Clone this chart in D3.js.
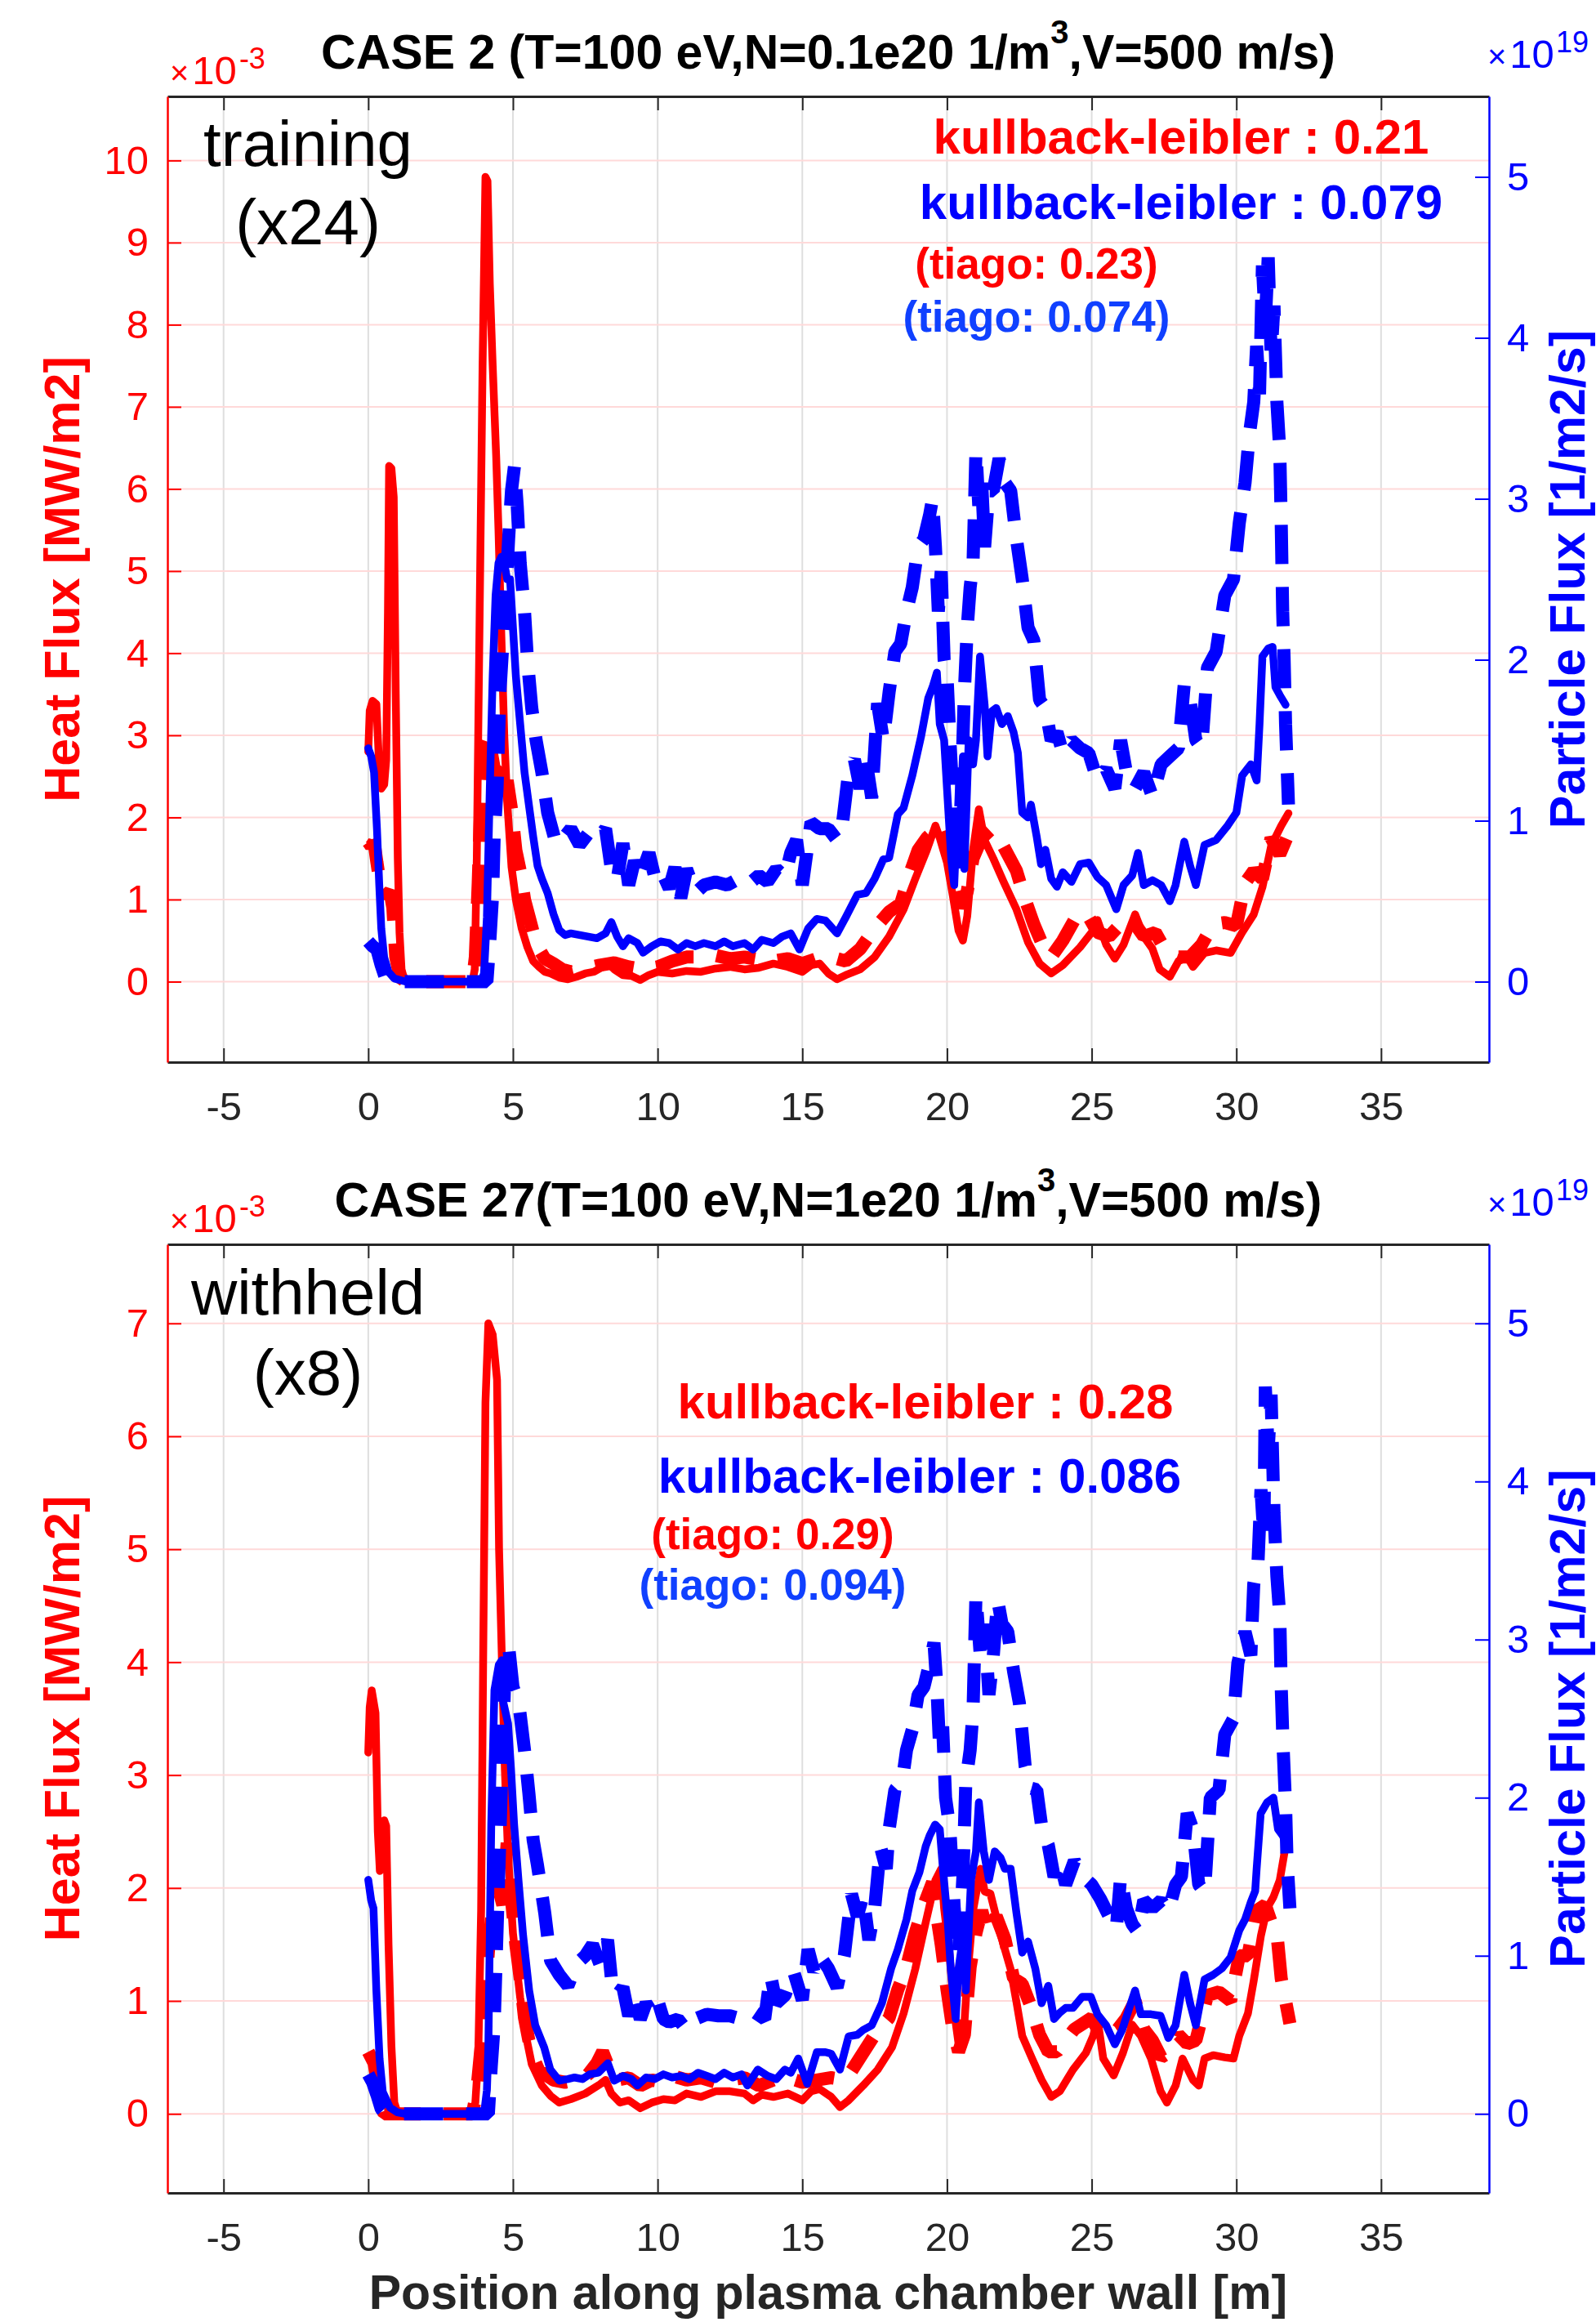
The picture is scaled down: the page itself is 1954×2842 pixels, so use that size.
<!DOCTYPE html>
<html>
<head>
<meta charset="utf-8">
<script src="https://cdn.jsdelivr.net/npm/d3@7"></script>
<style>
body { margin: 0; background: #fff; }
svg text { font-family: "Liberation Sans", Arial, Helvetica, sans-serif; }
</style>
</head>
<body>
<svg class="chart"></svg>
<script>
// ---- data ----
var xTicks = [-5, 0, 5, 10, 15, 20, 25, 30, 35];
var particleTicks = [0, 1, 2, 3, 4, 5];
var topHeatTicks = [0, 1, 2, 3, 4, 5, 6, 7, 8, 9, 10];
var bottomHeatTicks = [0, 1, 2, 3, 4, 5, 6, 7];

var titles = ["CASE 2 (T=100 eV,N=0.1e20 1/m", "CASE 27(T=100 eV,N=1e20 1/m"];
var titleTails = [",V=500 m/s)", ",V=500 m/s)"];
var setNames = [["training", "(x24)"], ["withheld", "(x8)"]];
var klHeat = ["kullback-leibler : 0.21", "kullback-leibler : 0.28"];
var klParticle = ["kullback-leibler : 0.079", "kullback-leibler : 0.086"];
var tiagoHeat = ["(tiago: 0.23)", "(tiago: 0.29)"];
var tiagoParticle = ["(tiago: 0.074)", "(tiago: 0.094)"];

// top panel, heat flux (x1e-3 MW/m2)
var topHeatSolid = [[0,2.8],[0.05,3.3],[0.15,3.42],[0.28,3.38],[0.38,2.6],[0.45,2.35],[0.55,2.4],[0.62,2.7],[0.68,4.5],[0.72,6.28],[0.8,6.25],[0.88,5.9],[0.95,3.5],[1.02,1.5],[1.08,0.6],[1.15,0.15],[1.25,0.02],[1.5,0],[2.5,0],[3.6,0],[3.68,0.15],[3.75,1.5],[3.85,4.5],[3.95,7.5],[4.05,9.8],[4.12,9.75],[4.2,8.5],[4.3,7.5],[4.42,6.4],[4.5,5.5],[4.6,4.2],[4.7,3.0],[4.8,2.2],[4.95,1.4],[5.1,1.0],[5.3,0.65],[5.5,0.42],[5.7,0.25],[5.9,0.18],[6.1,0.12],[6.3,0.1],[6.6,0.05],[6.9,0.03],[7.2,0.06],[7.5,0.1],[7.8,0.12],[8.1,0.18],[8.3,0.22],[8.5,0.15],[8.8,0.08],[9.1,0.07],[9.4,0.02],[9.7,0.08],[10,0.12],[10.5,0.1],[11,0.13],[11.5,0.12],[12,0.16],[12.5,0.18],[13,0.15],[13.5,0.17],[14,0.22],[14.5,0.18],[15,0.12],[15.3,0.2],[15.6,0.22],[15.9,0.1],[16.2,0.03],[16.5,0.08],[17,0.15],[17.5,0.3],[18,0.55],[18.5,0.88],[18.9,1.25],[19.3,1.6],[19.6,1.9],[19.75,1.75],[20,1.45],[20.2,1.05],[20.4,0.62],[20.55,0.5],[20.7,0.8],[20.9,1.6],[21.1,2.1],[21.3,1.72],[21.6,1.5],[21.95,1.22],[22.4,0.88],[22.8,0.48],[23.2,0.22],[23.6,0.1],[24,0.2],[24.6,0.42],[25,0.6],[25.2,0.75],[25.5,0.45],[25.8,0.28],[26.1,0.45],[26.5,0.82],[26.8,0.55],[27.1,0.4],[27.35,0.15],[27.7,0.06],[28,0.25],[28.3,0.3],[28.5,0.18],[28.9,0.35],[29.3,0.38],[29.8,0.35],[30.2,0.6],[30.6,0.82],[30.9,1.15],[31.2,1.65],[31.55,1.9],[31.8,2.05]];
var topHeatDashed = [[0,1.7],[0.1,1.65],[0.2,1.7],[0.3,1.45],[0.45,1.1],[0.6,1.05],[0.75,1.1],[0.85,0.9],[0.95,0.3],[1.1,0.05],[1.3,0],[3.6,0],[3.7,0.3],[3.8,1.2],[3.9,2.3],[4,2.9],[4.1,3.0],[4.2,2.9],[4.35,2.6],[4.5,2.55],[4.65,2.2],[4.8,2.45],[4.95,2.1],[5.1,1.6],[5.25,1.35],[5.4,1.0],[5.55,0.8],[5.7,0.6],[5.9,0.4],[6.1,0.28],[6.4,0.22],[6.7,0.15],[7,0.12],[7.5,0.16],[8,0.2],[8.5,0.23],[9,0.18],[9.5,0.15],[10,0.18],[10.5,0.25],[11,0.3],[11.5,0.3],[12,0.32],[12.5,0.28],[13,0.3],[13.5,0.27],[14,0.25],[14.5,0.28],[15,0.22],[15.5,0.28],[16,0.3],[16.5,0.25],[17,0.4],[17.5,0.65],[18,0.85],[18.4,0.95],[18.7,1.3],[19,1.6],[19.3,1.75],[19.6,1.85],[19.9,1.9],[20.1,1.7],[20.3,1.2],[20.5,0.9],[20.7,1.1],[20.9,1.5],[21.2,1.75],[21.5,1.85],[21.8,1.75],[22.1,1.55],[22.4,1.35],[22.7,1.0],[23,0.7],[23.3,0.45],[23.6,0.3],[24,0.5],[24.4,0.75],[24.8,0.85],[25.2,0.6],[25.6,0.55],[26,0.7],[26.4,0.75],[26.8,0.55],[27.2,0.6],[27.6,0.35],[28,0.3],[28.4,0.3],[28.8,0.45],[29.2,0.7],[29.6,0.72],[30,0.68],[30.3,1.2],[30.6,1.35],[30.9,1.25],[31.2,1.75],[31.5,1.55],[31.8,1.8]];
// top panel, particle flux (x1e19 1/m2/s)
var topPartSolid = [[0,1.45],[0.1,1.4],[0.2,1.3],[0.3,0.95],[0.38,0.6],[0.45,0.33],[0.55,0.15],[0.7,0.06],[0.9,0.02],[1.3,0],[3.9,0],[4,0.05],[4.1,0.4],[4.2,1.2],[4.3,1.9],[4.4,2.4],[4.5,2.6],[4.6,2.64],[4.7,2.6],[4.8,2.5],[4.9,2.5],[5,2.2],[5.1,1.9],[5.25,1.6],[5.4,1.3],[5.55,1.1],[5.7,0.9],[5.85,0.72],[6,0.64],[6.2,0.55],[6.4,0.42],[6.6,0.32],[6.8,0.29],[7,0.3],[7.3,0.29],[7.6,0.28],[7.9,0.27],[8.2,0.3],[8.4,0.37],[8.6,0.28],[8.8,0.22],[9,0.27],[9.3,0.24],[9.5,0.18],[9.8,0.22],[10.1,0.25],[10.4,0.24],[10.7,0.2],[11,0.24],[11.3,0.22],[11.6,0.24],[12,0.22],[12.3,0.25],[12.6,0.22],[13,0.24],[13.3,0.2],[13.6,0.26],[14,0.24],[14.3,0.28],[14.6,0.3],[14.9,0.2],[15.2,0.33],[15.5,0.39],[15.8,0.38],[16.2,0.3],[16.5,0.4],[16.9,0.54],[17.2,0.55],[17.5,0.64],[17.8,0.76],[18,0.77],[18.3,1.04],[18.5,1.08],[18.8,1.28],[19.1,1.52],[19.35,1.76],[19.5,1.83],[19.65,1.92],[19.75,1.6],[19.9,1.5],[20,1.2],[20.15,0.75],[20.25,0.6],[20.35,1.05],[20.45,0.95],[20.55,1.4],[20.6,0.7],[20.75,1.5],[20.9,1.35],[21,1.5],[21.14,2.02],[21.3,1.72],[21.4,1.4],[21.55,1.68],[21.7,1.7],[21.9,1.6],[22.1,1.65],[22.3,1.55],[22.45,1.42],[22.6,1.05],[22.8,1.02],[22.9,1.1],[23.1,0.9],[23.25,0.73],[23.4,0.82],[23.6,0.64],[23.8,0.59],[24,0.68],[24.3,0.62],[24.6,0.73],[24.9,0.74],[25.2,0.65],[25.5,0.6],[25.85,0.45],[26.1,0.6],[26.4,0.66],[26.6,0.8],[26.8,0.6],[27.1,0.63],[27.4,0.6],[27.7,0.5],[27.9,0.6],[28.2,0.87],[28.4,0.72],[28.6,0.6],[28.9,0.85],[29.3,0.88],[29.7,0.97],[30,1.05],[30.2,1.28],[30.5,1.35],[30.7,1.25],[30.8,1.6],[30.9,2.02],[31.1,2.07],[31.25,2.08],[31.35,1.83],[31.5,1.78],[31.7,1.72]];
var topPartDashed = [[0,0.25],[0.15,0.22],[0.3,0.2],[0.45,0.1],[0.6,0.02],[0.8,0],[4.1,0],[4.2,0.25],[4.3,0.55],[4.35,0.9],[4.45,1.2],[4.5,1.5],[4.55,1.8],[4.65,2.1],[4.75,2.4],[4.85,2.75],[4.95,3.05],[5.05,3.2],[5.15,2.95],[5.25,2.6],[5.4,2.3],[5.5,2.0],[5.65,1.7],[5.8,1.5],[6,1.3],[6.2,1.05],[6.5,0.85],[6.7,0.88],[7,0.95],[7.3,0.85],[7.6,0.92],[7.9,0.88],[8.2,0.95],[8.4,0.7],[8.6,0.63],[8.8,0.86],[9,0.6],[9.2,0.75],[9.4,0.65],[9.7,0.8],[9.9,0.65],[10.1,0.7],[10.4,0.58],[10.6,0.71],[10.8,0.52],[11,0.7],[11.3,0.55],[11.6,0.6],[12,0.62],[12.4,0.6],[12.8,0.64],[13.1,0.6],[13.5,0.66],[13.8,0.62],[14.1,0.7],[14.4,0.65],[14.6,0.8],[14.8,0.88],[15,0.6],[15.3,0.99],[15.6,0.95],[15.9,0.95],[16.2,0.88],[16.4,1.0],[16.6,1.3],[16.8,1.38],[17,1.2],[17.2,1.38],[17.4,1.14],[17.6,1.73],[17.8,1.5],[18,1.8],[18.2,2.05],[18.4,2.1],[18.6,2.3],[18.8,2.45],[19,2.7],[19.2,2.75],[19.4,2.9],[19.5,3.0],[19.6,2.7],[19.7,2.3],[19.8,2.55],[19.9,2.0],[20,1.9],[20.1,1.5],[20.25,1.0],[20.4,0.7],[20.5,1.2],[20.6,1.8],[20.7,2.2],[20.8,2.45],[20.9,2.6],[21,3.3],[21.1,2.95],[21.2,3.1],[21.3,2.7],[21.45,3.05],[21.6,3.05],[21.8,3.25],[22,3.1],[22.2,3.05],[22.4,2.75],[22.6,2.5],[22.8,2.2],[23,2.12],[23.2,1.75],[23.4,1.7],[23.6,1.5],[23.8,1.55],[24,1.42],[24.3,1.5],[24.6,1.45],[24.9,1.42],[25.2,1.25],[25.5,1.32],[25.8,1.2],[26,1.5],[26.2,1.3],[26.5,1.2],[26.8,1.3],[27.1,1.15],[27.4,1.35],[27.7,1.4],[28,1.45],[28.2,1.85],[28.4,1.75],[28.6,1.5],[28.8,1.45],[29,1.95],[29.3,2.05],[29.6,2.4],[29.9,2.5],[30.1,2.85],[30.3,3.1],[30.45,3.4],[30.6,3.6],[30.7,3.95],[30.8,3.65],[30.9,4.45],[31,4.1],[31.1,4.5],[31.2,3.9],[31.3,4.2],[31.4,3.6],[31.5,3.3],[31.55,2.85],[31.6,2.3],[31.65,2.0],[31.7,1.6],[31.8,1.1]];

// bottom panel, heat flux (x1e-3 MW/m2)
var botHeatSolid = [[0,3.2],[0.05,3.6],[0.12,3.75],[0.25,3.55],[0.33,2.5],[0.4,2.15],[0.48,2.2],[0.55,2.6],[0.62,2.55],[0.7,1.5],[0.8,0.6],[0.9,0.1],[1,0.02],[1.2,0],[3.6,0],[3.7,0.1],[3.8,0.5],[3.9,1.8],[3.97,4.0],[4.05,6.3],[4.15,7.0],[4.3,6.9],[4.45,6.5],[4.52,5.0],[4.62,4.0],[4.72,3.05],[4.83,2.3],[5,1.6],[5.25,1.03],[5.45,0.69],[5.65,0.44],[6,0.25],[6.3,0.16],[6.6,0.1],[7,0.13],[7.5,0.18],[8,0.26],[8.2,0.3],[8.4,0.18],[8.7,0.1],[9,0.12],[9.4,0.05],[9.8,0.1],[10.2,0.13],[10.6,0.12],[11,0.18],[11.5,0.15],[12,0.2],[12.5,0.2],[13,0.18],[13.3,0.12],[13.6,0.17],[14,0.15],[14.5,0.18],[15,0.12],[15.3,0.2],[15.6,0.22],[16,0.15],[16.3,0.06],[16.6,0.12],[17.1,0.25],[17.6,0.39],[18.1,0.59],[18.5,0.89],[18.9,1.28],[19.25,1.68],[19.6,2.07],[19.8,2.17],[19.9,1.82],[20.08,1.43],[20.25,0.9],[20.4,0.62],[20.55,0.6],[20.7,1.2],[20.9,1.8],[21.16,2.17],[21.3,1.97],[21.5,1.95],[21.86,1.58],[22.2,1.28],[22.4,0.99],[22.6,0.69],[22.94,0.49],[23.27,0.3],[23.6,0.15],[23.9,0.2],[24.35,0.39],[24.8,0.54],[25.05,0.69],[25.2,0.84],[25.4,0.49],[25.76,0.34],[26.08,0.54],[26.4,0.79],[26.7,0.69],[27.05,0.49],[27.38,0.2],[27.6,0.1],[27.9,0.25],[28.14,0.49],[28.5,0.3],[28.7,0.25],[28.9,0.49],[29.2,0.52],[29.6,0.5],[29.9,0.49],[30.1,0.69],[30.4,0.89],[30.6,1.18],[30.85,1.58],[31.06,1.82],[31.28,1.92],[31.5,2.07],[31.7,2.37],[31.8,2.4]];
var botHeatDashed = [[0,0.55],[0.1,0.5],[0.2,0.45],[0.3,0.3],[0.4,0.1],[0.55,0],[3.6,0],[3.75,0.2],[3.9,0.6],[4.05,1.1],[4.2,1.6],[4.35,1.9],[4.5,2.0],[4.65,1.85],[4.8,2.4],[4.95,1.9],[5.1,1.5],[5.25,1.2],[5.4,0.85],[5.55,0.65],[5.7,0.5],[5.9,0.38],[6.1,0.35],[6.4,0.3],[6.8,0.28],[7.2,0.3],[7.6,0.35],[7.9,0.45],[8.1,0.55],[8.3,0.42],[8.6,0.3],[9,0.32],[9.4,0.25],[9.8,0.3],[10.2,0.28],[10.6,0.33],[11,0.3],[11.5,0.32],[12,0.28],[12.5,0.3],[13,0.32],[13.5,0.25],[14,0.3],[14.5,0.32],[15,0.28],[15.5,0.3],[16,0.32],[16.5,0.3],[17,0.5],[17.5,0.7],[18,0.85],[18.3,1.1],[18.6,1.3],[18.9,1.6],[19.2,1.85],[19.5,2.05],[19.65,1.75],[19.8,1.5],[20,1.1],[20.2,0.75],[20.4,0.55],[20.6,0.7],[20.8,1.3],[21,1.6],[21.2,1.8],[21.4,1.6],[21.7,1.75],[22,1.55],[22.3,1.2],[22.6,1.15],[22.9,0.95],[23.2,0.7],[23.5,0.55],[23.8,0.55],[24.1,0.65],[24.4,0.75],[24.7,0.8],[25,0.85],[25.3,0.7],[25.6,0.7],[25.9,0.75],[26.2,0.85],[26.5,1.0],[26.8,0.75],[27.1,0.65],[27.4,0.5],[27.7,0.55],[28,0.7],[28.3,0.62],[28.6,0.65],[29,1.05],[29.4,1.08],[29.8,1.0],[30.1,1.4],[30.4,1.4],[30.7,1.8],[31,1.85],[31.2,1.7],[31.4,1.6],[31.55,1.2],[31.7,1.0],[31.85,0.8]];
// bottom panel, particle flux (x1e19 1/m2/s)
var botPartSolid = [[0,1.48],[0.1,1.35],[0.18,1.3],[0.28,0.78],[0.39,0.35],[0.5,0.14],[0.75,0.04],[1,0.01],[1.3,0],[4,0],[4.1,0.15],[4.15,0.42],[4.25,1.83],[4.36,2.68],[4.51,2.84],[4.62,2.87],[4.67,2.6],[4.83,2.47],[4.93,2.19],[5.04,1.83],[5.19,1.48],[5.35,1.13],[5.56,0.78],[5.77,0.56],[6.08,0.42],[6.29,0.28],[6.6,0.21],[6.9,0.22],[7.13,0.23],[7.4,0.22],[7.65,0.25],[7.95,0.26],[8.28,0.32],[8.5,0.21],[8.8,0.24],[9.1,0.22],[9.3,0.18],[9.6,0.23],[9.9,0.22],[10.2,0.25],[10.5,0.23],[10.8,0.24],[11.1,0.22],[11.4,0.26],[11.7,0.24],[12,0.22],[12.3,0.26],[12.6,0.23],[12.9,0.25],[13.1,0.18],[13.46,0.28],[13.8,0.24],[14.1,0.22],[14.4,0.28],[14.6,0.26],[14.86,0.35],[15.17,0.19],[15.5,0.39],[15.8,0.39],[16,0.38],[16.3,0.28],[16.6,0.49],[16.9,0.5],[17.1,0.53],[17.4,0.56],[17.75,0.7],[18.07,0.92],[18.3,1.04],[18.6,1.23],[18.8,1.41],[19.05,1.53],[19.26,1.69],[19.4,1.76],[19.59,1.83],[19.75,1.8],[19.86,1.55],[20.02,1.23],[20.13,0.92],[20.3,0.6],[20.4,0.92],[20.56,1.13],[20.65,0.78],[20.83,1.48],[21,1.66],[21.1,1.97],[21.27,1.66],[21.45,1.48],[21.65,1.66],[21.85,1.62],[22,1.55],[22.2,1.55],[22.4,1.27],[22.6,1.02],[22.8,1.09],[23.05,0.92],[23.27,0.7],[23.5,0.81],[23.7,0.6],[23.9,0.64],[24.1,0.67],[24.35,0.67],[24.67,0.74],[24.97,0.74],[25.2,0.63],[25.5,0.56],[25.8,0.44],[26.05,0.53],[26.3,0.67],[26.5,0.78],[26.7,0.63],[27.05,0.63],[27.38,0.62],[27.65,0.48],[27.9,0.56],[28.2,0.88],[28.4,0.7],[28.6,0.56],[28.9,0.85],[29.2,0.88],[29.5,0.92],[29.8,0.99],[30.1,1.16],[30.3,1.23],[30.5,1.34],[30.65,1.41],[30.7,1.55],[30.84,1.9],[31.06,1.97],[31.28,2.0],[31.44,1.8],[31.6,1.76],[31.76,1.69]];
var botPartDashed = [[0,0.25],[0.15,0.2],[0.3,0.12],[0.45,0.03],[0.6,0],[4.15,0],[4.25,0.3],[4.35,0.56],[4.4,0.86],[4.45,1.16],[4.5,1.46],[4.55,1.76],[4.6,2.08],[4.65,2.38],[4.7,2.66],[4.75,2.89],[4.85,2.96],[5,2.7],[5.2,2.6],[5.4,2.3],[5.55,2.03],[5.7,1.73],[5.85,1.57],[6.1,1.27],[6.3,0.97],[6.6,0.88],[6.9,0.81],[7.2,0.95],[7.5,1.0],[7.75,1.07],[8,0.95],[8.27,1.1],[8.4,0.86],[8.6,0.75],[8.8,0.8],[9,0.62],[9.2,0.74],[9.4,0.6],[9.6,0.7],[9.8,0.64],[10,0.72],[10.2,0.6],[10.4,0.58],[10.7,0.6],[11,0.53],[11.3,0.6],[11.7,0.63],[12.1,0.62],[12.5,0.62],[12.9,0.6],[13.3,0.65],[13.7,0.6],[13.9,0.88],[14.1,0.7],[14.4,0.75],[14.7,0.9],[15,0.72],[15.2,1.04],[15.4,0.9],[15.6,1.0],[15.9,0.92],[16.2,0.8],[16.45,1.0],[16.7,1.39],[16.9,1.25],[17.1,1.38],[17.3,1.1],[17.5,1.3],[17.7,1.69],[17.9,1.55],[18,1.8],[18.2,2.05],[18.45,2.1],[18.6,2.3],[18.8,2.43],[19,2.65],[19.2,2.7],[19.4,2.85],[19.55,2.98],[19.65,2.7],[19.75,2.3],[19.85,2.45],[19.95,2.0],[20.1,1.8],[20.25,1.3],[20.4,1.0],[20.55,1.5],[20.65,2.1],[20.8,2.3],[20.9,2.55],[21,3.28],[21.15,2.9],[21.3,3.1],[21.45,2.65],[21.6,2.9],[21.75,3.25],[21.9,3.1],[22.1,3.05],[22.3,2.8],[22.5,2.6],[22.7,2.2],[22.9,2.06],[23.1,2.05],[23.3,1.78],[23.5,1.7],[23.7,1.5],[23.9,1.6],[24.1,1.45],[24.4,1.6],[24.7,1.5],[25,1.45],[25.3,1.36],[25.6,1.25],[25.85,1.17],[26,1.5],[26.2,1.3],[26.4,1.2],[26.6,1.15],[26.8,1.35],[27.1,1.3],[27.4,1.35],[27.65,1.28],[27.9,1.45],[28.1,1.5],[28.3,1.9],[28.5,1.8],[28.7,1.45],[28.9,1.4],[29.1,2.0],[29.4,2.05],[29.6,2.4],[29.9,2.5],[30.05,2.85],[30.3,3.05],[30.5,2.9],[30.6,3.35],[30.75,3.5],[30.85,3.95],[30.95,3.65],[31,4.6],[31.1,4.2],[31.2,4.55],[31.3,3.8],[31.4,3.4],[31.5,3.15],[31.55,2.7],[31.62,2.3],[31.7,1.95],[31.75,1.6],[31.85,1.3]];

// ---- layout ----
var W = 1954, H = 2842;
var left = 205, plotW = 1618;
var xDomain = [-6.94, 38.73];
var particleDomain = [-0.5, 5.5];
var RED = "#ff0000", BLUE = "#0000ff", DARK = "#262626";

var svg = d3.select(".chart").attr("width", W).attr("height", H);
svg.append("rect").attr("width", W).attr("height", H).attr("fill", "#fff");

function drawPanel(p){
    var g = svg.append("g").attr("transform", "translate(" + left + "," + p.top + ")");
    var x = d3.scaleLinear().domain(xDomain).range([0, plotW]);
    var yL = d3.scaleLinear().domain(p.heatDomain).range([p.h, 0]);
    var yR = d3.scaleLinear().domain(particleDomain).range([p.h, 0]);

    // grid
    g.append("g").selectAll("line").data(xTicks).enter().append("line")
        .attr("x1", function(d){ return x(d); })
        .attr("x2", function(d){ return x(d); })
        .attr("y1", 0).attr("y2", p.h)
        .attr("stroke", "#dedede").attr("stroke-width", 2);
    g.append("g").selectAll("line").data(p.heatTicks).enter().append("line")
        .attr("x1", 0).attr("x2", plotW)
        .attr("y1", function(d){ return yL(d); })
        .attr("y2", function(d){ return yL(d); })
        .attr("stroke", "#ffd9d9").attr("stroke-width", 2);

    var clipId = "clip" + p.id;
    g.append("clipPath").attr("id", clipId).append("rect")
        .attr("width", plotW).attr("height", p.h);
    var lines = g.append("g").attr("clip-path", "url(#" + clipId + ")");

    var lineL = d3.line().x(function(d){ return x(d[0]); }).y(function(d){ return yL(d[1]); });
    var lineR = d3.line().x(function(d){ return x(d[0]); }).y(function(d){ return yR(d[1]); });

    var series = [
        {data: p.heatDashed, line: lineL, color: RED, dashed: true},
        {data: p.heatSolid, line: lineL, color: RED, dashed: false},
        {data: p.partDashed, line: lineR, color: BLUE, dashed: true},
        {data: p.partSolid, line: lineR, color: BLUE, dashed: false}
    ];
    series.forEach(function(s){
        lines.append("path")
            .attr("d", s.line(s.data))
            .attr("fill", "none")
            .attr("stroke", s.color)
            .attr("stroke-width", s.dashed ? 16 : 9.5)
            .attr("stroke-dasharray", s.dashed ? "48,28" : null)
            .attr("stroke-linecap", s.dashed ? "butt" : "round")
            .attr("stroke-linejoin", s.dashed ? "bevel" : "round");
    });

    // axes
    var xb = g.append("g").attr("transform", "translate(0," + p.h + ")")
        .call(d3.axisBottom(x).tickValues(xTicks).tickSizeInner(-17).tickSizeOuter(0)
            .tickPadding(36).tickFormat(function(d){ return String(d); }));
    var xt = g.append("g")
        .call(d3.axisTop(x).tickValues(xTicks).tickSizeInner(-17).tickSizeOuter(0)
            .tickFormat(function(){ return ""; }));
    [xb, xt].forEach(function(a){
        a.select(".domain").attr("stroke", DARK).attr("stroke-width", 3);
        a.selectAll(".tick line").attr("stroke", DARK).attr("stroke-width", 2);
    });
    xb.selectAll("text").attr("fill", DARK).style("font-size", "49px");

    var yl = g.append("g")
        .call(d3.axisLeft(yL).tickValues(p.heatTicks).tickSizeInner(-17).tickSizeOuter(0)
            .tickPadding(23).tickFormat(function(d){ return String(d); }));
    yl.select(".domain").attr("stroke", RED).attr("stroke-width", 2.5);
    yl.selectAll(".tick line").attr("stroke", RED).attr("stroke-width", 2);
    yl.selectAll("text").attr("fill", RED).style("font-size", "49px");

    var yr = g.append("g").attr("transform", "translate(" + plotW + ",0)")
        .call(d3.axisRight(yR).tickValues(particleTicks).tickSizeInner(-17).tickSizeOuter(0)
            .tickPadding(22).tickFormat(function(d){ return String(d); }));
    yr.select(".domain").attr("stroke", BLUE).attr("stroke-width", 2.5);
    yr.selectAll(".tick line").attr("stroke", BLUE).attr("stroke-width", 2);
    yr.selectAll("text").attr("fill", BLUE).style("font-size", "49px");

    // exponent labels
    var e1 = svg.append("text").attr("x", 208).attr("y", p.top - 15)
        .attr("fill", RED).style("font-size", "40px").text("\u00d7");
    e1.append("tspan").attr("dx", 4).style("font-size", "49px").text("10");
    e1.append("tspan").attr("dy", -19).attr("dx", 3).style("font-size", "36px").text("-3");
    var e2 = svg.append("text").attr("x", 1821).attr("y", p.top - 35)
        .attr("fill", BLUE).style("font-size", "40px").text("\u00d7");
    e2.append("tspan").attr("dx", 4).style("font-size", "49px").text("10");
    e2.append("tspan").attr("dy", -19).attr("dx", 2).style("font-size", "36px").text("19");

    // title
    var t = svg.append("text").attr("x", 1014).attr("y", p.top - 34)
        .attr("text-anchor", "middle").attr("fill", "#000")
        .style("font-size", "59px").style("font-weight", "bold")
        .text(titles[p.id]);
    t.append("tspan").attr("dy", -31).style("font-size", "40px").text("3");
    t.append("tspan").attr("dy", 31).text(titleTails[p.id]);

    // axis labels
    var cy = p.top + p.h / 2;
    svg.append("text").attr("transform", "translate(97," + cy + ") rotate(-90)")
        .attr("text-anchor", "middle").attr("fill", RED)
        .style("font-size", "61px").style("font-weight", "bold")
        .text("Heat Flux [MW/m2]");
    svg.append("text").attr("transform", "translate(1940," + cy + ") rotate(-90)")
        .attr("text-anchor", "middle").attr("fill", BLUE)
        .style("font-size", "61px").style("font-weight", "bold")
        .text("Particle Flux [1/m2/s]");

    // annotations
    svg.append("text").attr("x", 377).attr("y", p.nameY[0]).attr("text-anchor", "middle")
        .style("font-size", "78px").text(setNames[p.id][0]);
    svg.append("text").attr("x", 377).attr("y", p.nameY[1]).attr("text-anchor", "middle")
        .style("font-size", "78px").text(setNames[p.id][1]);

    var notes = [
        {txt: klHeat[p.id], x: p.klX[0], y: p.klY[0], c: RED, s: 60},
        {txt: klParticle[p.id], x: p.klX[1], y: p.klY[1], c: BLUE, s: 60},
        {txt: tiagoHeat[p.id], x: p.tgX, y: p.tgY[0], c: RED, s: 53},
        {txt: tiagoParticle[p.id], x: p.tgX, y: p.tgY[1], c: "#1040ff", s: 53}
    ];
    notes.forEach(function(n){
        svg.append("text").attr("x", n.x).attr("y", n.y).attr("text-anchor", "middle")
            .attr("fill", n.c).style("font-size", n.s + "px").style("font-weight", "bold")
            .text(n.txt);
    });
}

drawPanel({
    id: 0, top: 118, h: 1182, heatDomain: [-0.98, 10.78], heatTicks: topHeatTicks,
    heatSolid: topHeatSolid, heatDashed: topHeatDashed,
    partSolid: topPartSolid, partDashed: topPartDashed,
    nameY: [203, 299], klX: [1446, 1446], klY: [188, 268], tgX: 1269, tgY: [341, 406]
});
drawPanel({
    id: 1, top: 1523, h: 1161, heatDomain: [-0.7, 7.7], heatTicks: bottomHeatTicks,
    heatSolid: botHeatSolid, heatDashed: botHeatDashed,
    partSolid: botPartSolid, partDashed: botPartDashed,
    nameY: [1609, 1707], klX: [1133, 1126], klY: [1736, 1827], tgX: 946, tgY: [1896, 1958]
});

svg.append("text").attr("x", 1014).attr("y", 2826).attr("text-anchor", "middle")
    .attr("fill", DARK).style("font-size", "59px").style("font-weight", "bold")
    .text("Position along plasma chamber wall [m]");
</script>
</body>
</html>
